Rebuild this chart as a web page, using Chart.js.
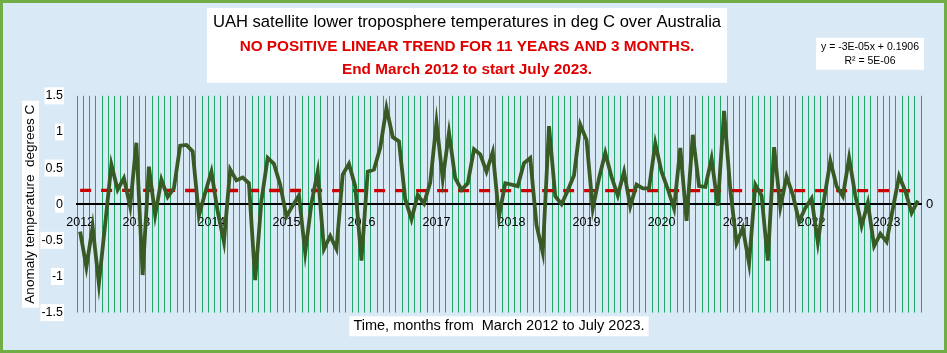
<!DOCTYPE html>
<html>
<head>
<meta charset="utf-8">
<script src="https://cdn.jsdelivr.net/npm/chart.js@4.4.0/dist/chart.umd.min.js"></script>
<style>
  html, body { margin: 0; padding: 0; background: #d9e9f5; }
  #wrap { width: 947px; height: 353px; }
</style>
</head>
<body>
<div id="wrap"><canvas id="uahChart" width="947" height="353"></canvas></div>
<script>
// monthly anomalies, first value is April 2012
const startYear = 2012;
const startMonth = 4;

const anom2012 = [-0.38, -0.87, -0.31, -1.10, -0.28, 0.55, 0.20, 0.36, -0.03];
const anom2013 = [0.85, -0.98, 0.52, -0.15, 0.34, 0.10, 0.22, 0.81, 0.82, 0.73, -0.16, 0.16];
const anom2014 = [0.45, -0.10, -0.52, 0.48, 0.33, 0.37, 0.29, -1.05, 0.05, 0.64, 0.56, 0.27];
const anom2015 = [-0.17, -0.02, 0.12, -0.67, 0.01, 0.45, -0.62, -0.44, -0.62, 0.41, 0.56, 0.25];
const anom2016 = [-0.78, 0.45, 0.48, 0.78, 1.33, 0.93, 0.87, 0.07, -0.21, 0.13, 0.01, 0.30];
const anom2017 = [1.13, 0.35, 0.99, 0.36, 0.20, 0.29, 0.76, 0.69, 0.45, 0.72, -0.17, 0.29];
const anom2018 = [0.27, 0.25, 0.57, 0.64, -0.29, -0.67, 1.08, 0.11, 0.00, 0.19, 0.40, 1.10];
const anom2019 = [0.89, -0.06, 0.36, 0.71, 0.38, 0.12, 0.45, -0.03, 0.27, 0.22, 0.22, 0.84];
const anom2020 = [0.45, 0.21, -0.06, 0.78, -0.23, 0.96, 0.25, 0.24, 0.63, -0.02, 1.29, 0.20];
const anom2021 = [-0.54, -0.33, -0.82, 0.27, 0.12, -0.78, 0.79, -0.04, 0.38, 0.13, -0.24, -0.05];
const anom2022 = [0.08, -0.53, 0.07, 0.60, 0.25, 0.11, 0.64, 0.12, -0.30, 0.02, -0.58, -0.41];
const anom2023 = [-0.52, -0.06, 0.39, 0.18, -0.12, 0.05];

const anomalies = [].concat(anom2012, anom2013, anom2014, anom2015, anom2016, anom2017,
  anom2018, anom2019, anom2020, anom2021, anom2022, anom2023);

// Excel trendline shown on the chart
const trendSlope = -0.00003;
const trendIntercept = 0.1906;

const titleText = 'UAH satellite lower troposphere temperatures in deg C over Australia';
const subtitleText = ['NO POSITIVE LINEAR TREND FOR 11 YEARS AND 3 MONTHS.', 'End March 2012 to start July 2023.'];
const equationText = ['y = -3E-05x + 0.1906', 'R\u00b2 = 5E-06'];
const xTitle = 'Time, months from  March 2012 to July 2023.';
const yTitle = 'Anomaly temperature  degrees C';

const months = anomalies.map((v, i) => {
  const m = startMonth - 1 + i;
  return (startYear + Math.floor(m / 12)) + '-' + String(m % 12 + 1).padStart(2, '0');
});

const last = anomalies.length - 1;
const trend = anomalies.map((v, i) => (i === 0 || i === last) ? trendIntercept + trendSlope * (i + 1) : null);

const FONT = "'Liberation Sans', Arial, sans-serif";

const decor = {
  id: 'decor',
  beforeDraw(chart) {
    const {ctx, width, height, chartArea} = chart;
    const ys = chart.scales.y, x2 = chart.scales.x2;
    ctx.save();
    ctx.fillStyle = '#d9e9f5';
    ctx.fillRect(0, 0, width, height);

    ctx.fillStyle = '#ffffff';
    // title box
    ctx.font = '16.6px ' + FONT;
    let tw = ctx.measureText(titleText).width;
    const tb = chart.titleBlock;
    const cx = (tb.left + tb.right) / 2;
    ctx.fillRect(cx - tw / 2 - 6, tb.top + 8, tw + 12, chartArea.top - 13 - tb.top - 8);

    // equation box
    const ex = chartArea.right + 3, ey = chartArea.top - 58;
    ctx.fillRect(ex - 108, ey, 108, 32);
    ctx.fillStyle = '#000';
    ctx.font = '10.5px ' + FONT;
    ctx.textAlign = 'center';
    ctx.textBaseline = 'middle';
    ctx.fillText(equationText[0], ex - 54, ey + 9);
    ctx.fillText(equationText[1], ex - 54, ey + 23);

    // y title box
    ctx.fillStyle = '#ffffff';
    ctx.font = '13.5px ' + FONT;
    tw = ctx.measureText(yTitle).width;
    const yc = (chartArea.top + chartArea.bottom) / 2;
    ctx.fillRect(ys.left + 22, yc - tw / 2 - 4, 17, tw + 8);

    // x title box
    ctx.font = '14.5px ' + FONT;
    tw = ctx.measureText(xTitle).width;
    const xc = (chartArea.left + chartArea.right) / 2;
    ctx.fillRect(xc - tw / 2 - 4, x2.bottom - 4 - 8.7 - 10, tw + 8, 20);
    ctx.restore();
  },
  afterDraw(chart) {
    const {ctx, width, height} = chart;
    ctx.save();
    ctx.strokeStyle = '#70ad47';
    ctx.lineWidth = 3;
    ctx.strokeRect(1.5, 1.5, width - 3, height - 3);
    ctx.restore();
  }
};

const ctx = document.getElementById('uahChart').getContext('2d');
new Chart(ctx, {
  type: 'line',
  plugins: [decor],
  data: {
    labels: months,
    datasets: [{
      label: 'UAH Australia',
      data: anomalies,
      borderColor: '#385a25',
      borderWidth: 3.8,
      pointRadius: 0,
      tension: 0,
      order: 1
    }, {
      label: 'Linear trend',
      data: trend,
      borderColor: '#cc0000',
      borderWidth: 3.3,
      borderDash: [11, 10],
      pointRadius: 0,
      spanGaps: true,
      order: 2
    }]
  },
  options: {
    responsive: false,
    animation: false,
    devicePixelRatio: 1,
    layout: { padding: { left: 0, right: 13, top: 0, bottom: 14 } },
    plugins: {
      legend: { display: false },
      tooltip: { enabled: false },
      title: {
        display: true,
        text: titleText,
        color: '#000',
        font: { family: FONT, size: 16.6, weight: 'normal', lineHeight: 1.2 },
        padding: { top: 12, bottom: 3 }
      },
      subtitle: {
        display: true,
        text: subtitleText,
        color: '#e00000',
        font: { family: FONT, size: 15.3, weight: 'bold', lineHeight: 1.5 },
        padding: { top: 0, bottom: 15 }
      }
    },
    scales: {
      x: {
        type: 'category',
        position: { y: 0 },
        offset: true,
        grid: { offset: true, color: '#22a866', lineWidth: 1, drawTicks: false },
        border: { color: '#000', width: 2 },
        ticks: {
          autoSkip: false,
          maxRotation: 0,
          padding: 11,
          color: '#000',
          font: { family: FONT, size: 12.5 },
          callback: function (value, index) {
            const parts = this.getLabelForValue(value).split('-');
            return (index === 0 || parts[1] === '01') ? parts[0] : '';
          }
        }
      },
      x2: {
        type: 'category',
        position: 'bottom',
        grid: { display: false, drawTicks: false },
        border: { display: false },
        ticks: { display: false },
        title: {
          display: true,
          text: xTitle,
          color: '#000',
          font: { family: FONT, size: 14.5, lineHeight: 1.2 },
          padding: { top: 5, bottom: 4 }
        }
      },
      y: {
        min: -1.5,
        max: 1.5,
        grid: { display: false, drawTicks: false },
        border: { display: false },
        ticks: {
          stepSize: 0.5,
          padding: 14,
          color: '#000',
          font: { family: FONT, size: 12.5 },
          showLabelBackdrop: true,
          backdropColor: '#ffffff',
          backdropPadding: 1,
          callback: (v) => String(v)
        },
        title: {
          display: true,
          text: yTitle,
          color: '#000',
          font: { family: FONT, size: 13.5, lineHeight: 1.2 },
          padding: { top: 22 }
        },
        afterFit: (s) => { s.width = 77; }
      },
      y2: {
        position: 'right',
        min: -1.5,
        max: 1.5,
        grid: { display: false, drawTicks: false },
        border: { display: false },
        ticks: {
          stepSize: 0.5,
          padding: 5,
          color: '#000',
          font: { family: FONT, size: 13 },
          callback: (v) => v === 0 ? '0' : ''
        },
        afterFit: (s) => { s.width = 13; }
      }
    }
  }
});
</script>
</body>
</html>
